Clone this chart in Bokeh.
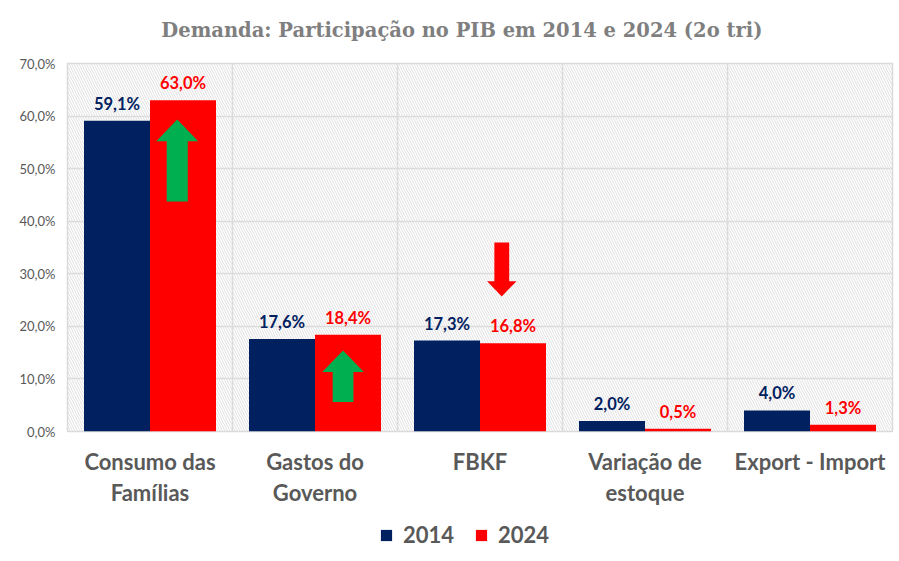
import numpy as np
from bokeh.plotting import figure
from bokeh.layouts import column
from bokeh.models import (Range1d, FixedTicker, Legend, LegendItem, BoxAnnotation,
                          ColumnDataSource)
from bokeh.core.properties import value
from bokeh.embed import file_html
from bokeh.resources import INLINE

# ---------------- data ----------------
title_text = "Demanda: Participação no PIB em 2014 e 2024 (2o tri)"
categories = ["Consumo das\nFamílias", "Gastos do\nGoverno", "FBKF", "Variação de\nestoque", "Export - Import"]
values_2014 = [59.1, 17.6, 17.3, 2.0, 4.0]
values_2024 = [63.0, 18.4, 16.8, 0.5, 1.3]
y_ticks = [0, 10, 20, 30, 40, 50, 60, 70]
y_tick_labels = ["0,0%", "10,0%", "20,0%", "30,0%", "40,0%", "50,0%", "60,0%", "70,0%"]
series_names = ["2014", "2024"]

# arrows: (category index, x offset inside category, start value, end value)
arrow_up_1 = (0, 0.665, 43.75, 59.35)
arrow_up_2 = (1, 0.67, 5.6, 15.4)
arrow_down = (2, 0.632, 35.95, 25.7)

NAVY = "#002060"
RED = "#FF0000"
GREEN = "#00B050"
GRID = "#d9d9d9"
TXT = "#595959"
W = 895

# ---------------- title strip (frame aligned with the chart's frame) ----------------
tf = figure(width=W, height=50, output_backend="svg", toolbar_location=None,
            x_range=Range1d(0, 5), y_range=Range1d(0, 50), title=None,
            x_axis_type=None, y_axis_type=None, min_border=0)
tf.outline_line_color = None
tf.grid.visible = False
tf.text(x=[2.39], y=[20], text=[title_text], text_font=value("DejaVu Serif"),
        text_font_style="bold", text_font_size="19.5px", text_color="#7f7f7f",
        text_align="center", text_baseline="middle")

# ---------------- main chart ----------------
p = figure(width=W, height=461, output_backend="svg", toolbar_location=None,
           x_range=Range1d(0, 5), y_range=Range1d(0, 70), title=None,
           min_border_left=67, min_border_right=3, min_border_top=13, min_border_bottom=80)

p.background_fill_color = "white"
p.border_fill_color = "white"
p.outline_line_color = GRID
p.outline_line_width = 1.5

# hatched plot background
p.add_layout(BoxAnnotation(fill_alpha=0, line_color=None, hatch_pattern="\\",
                           hatch_color="#e0e0e0", hatch_scale=5, hatch_weight=1,
                           level="underlay"))

centers = np.arange(len(categories)) + 0.5
p.xaxis.ticker = FixedTicker(ticks=list(centers))
p.xaxis.major_label_overrides = {float(c): lab for c, lab in zip(centers, categories)}
p.xaxis.major_label_text_font = "Lato"
p.xaxis.major_label_text_font_style = "bold"
p.xaxis.major_label_text_font_size = "22px"
p.xaxis.major_label_text_color = TXT
p.xaxis.major_label_text_line_height = 1.15
p.xaxis.major_label_standoff = 16
p.xaxis.axis_line_color = None
p.xaxis.major_tick_line_color = None
p.xaxis.minor_tick_line_color = None
p.xaxis.major_tick_out = 0
p.xaxis.major_tick_in = 0

p.yaxis.ticker = FixedTicker(ticks=y_ticks)
p.yaxis.major_label_overrides = {t: lab for t, lab in zip(y_ticks, y_tick_labels)}
p.yaxis.major_label_text_font = "Lato"
p.yaxis.major_label_text_font_size = "13px"
p.yaxis.major_label_text_color = TXT
p.yaxis.major_label_standoff = 12
p.yaxis.axis_line_color = None
p.yaxis.major_tick_line_color = None
p.yaxis.minor_tick_line_color = None
p.yaxis.major_tick_out = 0
p.yaxis.major_tick_in = 0

p.xgrid.ticker = FixedTicker(ticks=list(range(1, len(categories))))
p.xgrid.grid_line_color = GRID
p.xgrid.grid_line_width = 1.5
p.ygrid.grid_line_color = GRID
p.ygrid.grid_line_width = 1.5

# bars
x14 = centers - 0.2
x24 = centers + 0.2
def fmt(v):
    return f"{v:.1f}%".replace(".", ",")

src14 = ColumnDataSource(dict(x=x14, top=values_2014, label=[fmt(v) for v in values_2014]))
src24 = ColumnDataSource(dict(x=x24, top=values_2024, label=[fmt(v) for v in values_2024]))

p.vbar(x="x", top="top", width=0.4, source=src14, fill_color=NAVY, line_color=None)
p.vbar(x="x", top="top", width=0.4, source=src24, fill_color=RED, line_color=None)

for src, col in ((src14, NAVY), (src24, RED)):
    p.text(x="x", y="top", text="label", source=src, text_color=col,
           text_font=value("Lato"), text_font_style="bold", text_font_size="16.5px",
           text_align="center", text_baseline="bottom", y_offset=-7)

# arrows
def arrow_poly(spec, head_half, shaft_half, head_len):
    cat, off, start, end = spec
    cx = cat + off
    d = 1 if end > start else -1
    hb = end - d * head_len
    xs = [cx - shaft_half, cx - shaft_half, cx - head_half, cx, cx + head_half, cx + shaft_half, cx + shaft_half]
    ys = [start, hb, hb, end, hb, hb, start]
    return xs, ys

a1 = arrow_poly(arrow_up_1, 0.127, 0.064, 4.15)
a2 = arrow_poly(arrow_up_2, 0.126, 0.063, 4.1)
a3 = arrow_poly(arrow_down, 0.089, 0.045, 2.9)
p.patches(xs=[a1[0], a2[0]], ys=[a1[1], a2[1]], fill_color=GREEN, line_color=None)
p.patches(xs=[a3[0]], ys=[a3[1]], fill_color=RED, line_color=None)

# ---------------- legend strip (frame aligned with the chart's frame) ----------------
lf = figure(width=W, height=50, output_backend="svg", toolbar_location=None,
            x_range=Range1d(0, 1), y_range=Range1d(0, 1), title=None,
            x_axis_type=None, y_axis_type=None, min_border=0)
lf.outline_line_color = None
lf.grid.visible = False
# zero-height proxies, only used to draw the legend swatches
l14 = lf.vbar(x=[0.5], top=[0], bottom=[0], width=0.0, fill_color=NAVY, line_color=None)
l24 = lf.vbar(x=[0.5], top=[0], bottom=[0], width=0.0, fill_color=RED, line_color=None)
legend = Legend(items=[LegendItem(label=series_names[0], renderers=[l14]),
                       LegendItem(label=series_names[1], renderers=[l24])],
                orientation="horizontal", location=(312, 13),
                glyph_width=14, glyph_height=14, label_standoff=10, spacing=20,
                padding=0, margin=0, border_line_color=None, background_fill_alpha=0,
                label_text_font="Lato", label_text_font_style="bold",
                label_text_font_size="22px", label_text_color=TXT)
lf.add_layout(legend)

layout = column(tf, p, lf, spacing=0)
open("out.html", "w").write(file_html(layout, INLINE))
